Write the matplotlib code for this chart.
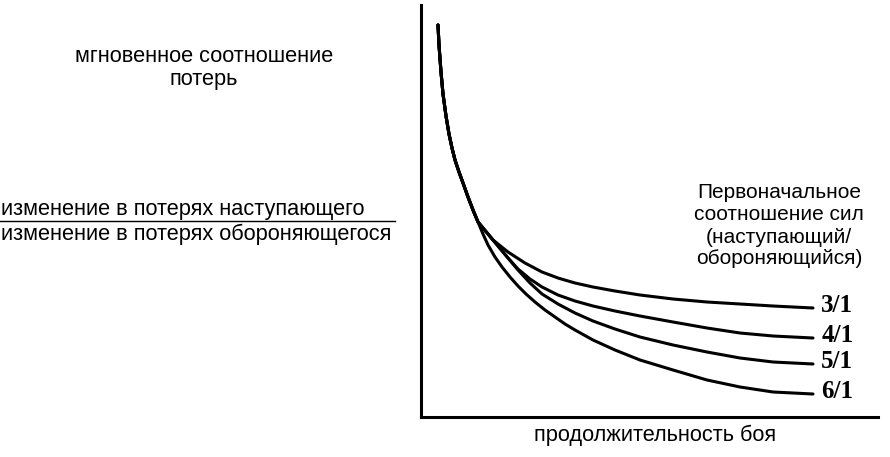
import numpy as np
import matplotlib
matplotlib.use("Agg")
import matplotlib.pyplot as plt
from matplotlib.lines import Line2D

plt.rcParams['font.family'] = ['Liberation Sans', 'DejaVu Sans']

# общий начальный участок кривых (условные единицы: время боя, соотношение потерь)
trunk_t = [17, 18, 20, 22, 25, 28, 31, 34, 38, 42, 47, 52, 57]
trunk_r = [392, 372, 345, 323, 301, 283, 269, 257, 245, 234, 220, 207, 195]

# участок, общий для 3/1, 4/1, 5/1
bundle_t = [62, 67, 72]
bundle_r = [189, 183, 177]

t_3_1 = [77, 87, 104, 121, 137, 154, 172, 194, 219, 252, 286, 319, 352, 392]
r_3_1 = [173, 165, 154, 145, 139, 134, 130, 126, 122, 118, 115, 113, 111, 109]

t_4_1 = [77, 87, 97, 109, 121, 137, 154, 172, 194, 219, 252, 286, 319, 352, 392]
r_4_1 = [171, 159, 148, 138, 130, 122, 116, 111, 106, 101, 95, 89, 84, 81, 79]

t_5_1 = [77, 87, 97, 109, 121, 137, 154, 172, 194, 219, 252, 286, 319, 352, 392]
r_5_1 = [171, 159, 147, 134, 123, 113, 104, 96, 88, 80, 72, 65, 59, 55, 53]

t_6_1 = [62, 67, 74, 81, 89, 97, 105, 114, 124, 134, 144, 154, 172, 194,
         219, 252, 286, 319, 352, 392]
r_6_1 = [183, 172, 160, 150, 140, 131, 123, 115, 107, 100, 93, 87, 77, 67,
         57, 47, 37, 30, 25, 23]

labels = ['3/1', '4/1', '5/1', '6/1']
series = [
    (trunk_t + bundle_t + t_3_1, trunk_r + bundle_r + r_3_1),
    (trunk_t + bundle_t + t_4_1, trunk_r + bundle_r + r_4_1),
    (trunk_t + bundle_t + t_5_1, trunk_r + bundle_r + r_5_1),
    (trunk_t + t_6_1, trunk_r + r_6_1),
]

W, H = 890, 457
fig = plt.figure(figsize=(W / 100, H / 100), dpi=100)

def fx(px):
    return px / W

def fy(py):
    return 1 - py / H

ax = fig.add_axes([fx(421), fy(417), (878 - 421) / W, (417 - 5) / H])
ax.set_xlim(0, 457)
ax.set_ylim(0, 412)
for s in ['top', 'right']:
    ax.spines[s].set_visible(False)
for s in ['left', 'bottom']:
    ax.spines[s].set_linewidth(2.2)
ax.set_xticks([])
ax.set_yticks([])

for lab, (t, y) in zip(labels, series):
    ax.plot(t, y, color='black', lw=2.2, solid_capstyle='round', solid_joinstyle='round')
    ax.annotate(lab, (t[-1], y[-1]), xytext=(6, 1.5), textcoords='offset points',
                va='center', ha='left', fontsize=18, fontweight='bold',
                family='Liberation Serif')

fs = 15.7
fig.text(fx(204), fy(57), 'мгновенное соотношение', ha='center', va='center', fontsize=fs)
fig.text(fx(204), fy(80), 'потерь', ha='center', va='center', fontsize=fs)

fig.text(fx(1), fy(210), 'изменение в потерях наступающего', ha='left', va='center', fontsize=fs)
fig.text(fx(1), fy(234), 'изменение в потерях обороняющегося', ha='left', va='center', fontsize=fs)
fig.add_artist(Line2D([fx(0), fx(395)], [fy(221), fy(221)], color='black', lw=1.0))

right_lines = ['Первоначальное', 'соотношение сил', '(наступающий/', 'обороняющийся)']
right_y = [192, 214, 237, 259]
for txt, py in zip(right_lines, right_y):
    fig.text(fx(779), fy(py), txt, ha='center', va='center', fontsize=15)

fig.text(fx(655), fy(435), 'продолжительность боя', ha='center', va='center', fontsize=fs)

fig.savefig('out.png', dpi=100, facecolor='white')
